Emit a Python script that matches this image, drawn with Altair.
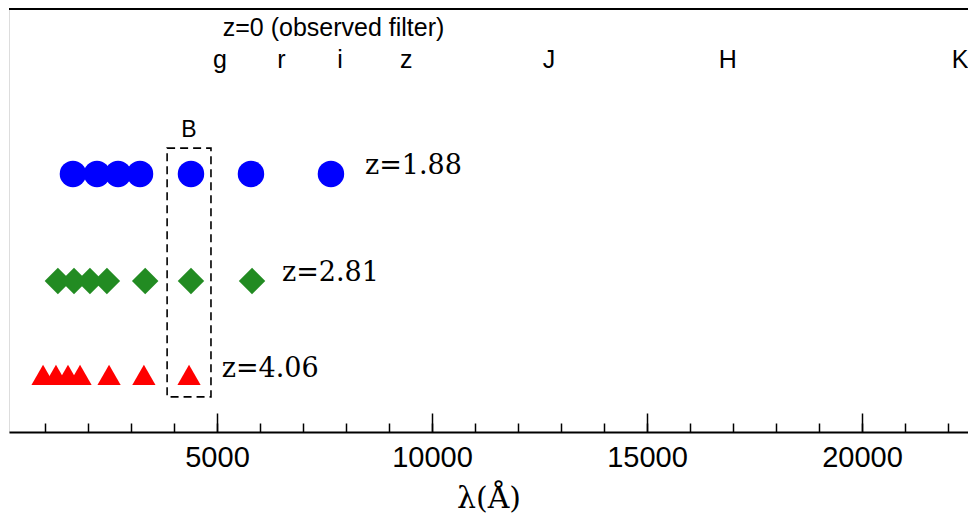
import altair as alt
import pandas as pd

# ---- data ----
# observed filters (z=0) and where their labels sit on the wavelength axis
filters = ["g", "r", "i", "z", "J", "H", "K"]
filter_lambda = [5070, 6500, 7860, 9400, 12720, 16880, 22280]

# rest-frame wavelength sampled by each filter at three redshifts (Angstrom)
lam_z188 = [1650, 2210, 2700, 3210, 4395, 5790, 7650]
lam_z281 = [1300, 1675, 2045, 2440, 3330, 4395, 5815]
lam_z406 = [955, 1255, 1535, 1815, 2490, 3300, 4350]

redshift_labels = ["z=1.88", "z=2.81", "z=4.06"]
row_y = [6.10, 3.57, 1.35]
label_lambda = [8440, 6510, 5110]
label_y = [6.29, 3.76, 1.49]

header_text = ["z=0 (observed filter)"]
header_lambda = [7710]
header_y = [9.56]
filter_row_y = [8.80]

band_name = ["B"]
band_lambda = [4350]
band_y = [7.14]
band_left = [3840]
band_right = [4860]
band_bottom = [0.83]
band_top = [6.71]

minor_ticks = list(range(1000, 23000, 1000))
major_ticks = [5000, 10000, 15000, 20000]

# ---- tables ----
df188 = pd.DataFrame({"lam": lam_z188, "y": row_y[0]})
df281 = pd.DataFrame({"lam": lam_z281, "y": row_y[1]})
df406 = pd.DataFrame({"lam": lam_z406, "y": row_y[2]})
dflab = pd.DataFrame({"lam": label_lambda, "y": label_y, "t": redshift_labels})
dffil = pd.DataFrame({"lam": filter_lambda, "y": filter_row_y * len(filters), "t": filters})
dfhead = pd.DataFrame({"lam": header_lambda, "y": header_y, "t": header_text})
dfband = pd.DataFrame({"lam": band_lambda, "y": band_y, "t": band_name,
                       "x1": band_left, "x2": band_right, "y1": band_bottom, "y2": band_top})

W, H = 959, 423
XDOM = [163, 22465]
xs = alt.Scale(domain=XDOM, nice=False, zero=False)
ys = alt.Scale(domain=[0, 10], nice=False, zero=False)
SANS = "Liberation Sans"
SERIF = "DejaVu Serif"

bottom_axis = alt.Axis(orient="bottom", values=major_ticks, format="d", ticks=False, tickSize=0,
                       grid=False, domainColor="black", domainWidth=2,
                       labelFont=SANS, labelFontSize=29, labelColor="black", labelPadding=11,
                       labelOverlap=False, labelFlush=False,
                       title="λ(Å)", titleFont=SERIF, titleFontSize=30, titleFontWeight="normal",
                       titleColor="black", titleBaseline="middle", titleY=66)
y_axis = alt.Axis(labels=False, ticks=False, title=None, grid=False,
                  domainColor="black", domainWidth=2)
minor_axis = alt.Axis(orient="top", offset=-H, values=minor_ticks, labels=False, domain=False,
                      grid=False, ticks=True, tickSize=9, tickColor="black", tickWidth=1.5, title=None)
major_axis = alt.Axis(orient="top", offset=-H, values=major_ticks, labels=False, domain=False,
                      grid=False, ticks=True, tickSize=19, tickColor="black", tickWidth=1.5, title=None)

circles = alt.Chart(df188).mark_point(shape="circle", filled=True, size=700, color="#0000ff", opacity=1).encode(
    x=alt.X("lam:Q", scale=xs, axis=bottom_axis),
    y=alt.Y("y:Q", scale=ys, axis=y_axis),
)
diamonds = alt.Chart(df281).mark_point(shape="diamond", filled=True, size=700, color="#228b22", opacity=1).encode(
    x=alt.X("lam:Q", scale=xs, axis=None),
    y=alt.Y("y:Q", scale=ys, axis=None),
)
triangles = alt.Chart(df406).mark_point(shape="triangle-up", filled=True, size=540, color="#ff0000", opacity=1).encode(
    x=alt.X("lam:Q", scale=xs, axis=None),
    y=alt.Y("y:Q", scale=ys, axis=None),
)
zlabels = alt.Chart(dflab).mark_text(align="left", baseline="middle", font=SERIF, fontSize=27, color="black").encode(
    x=alt.X("lam:Q", scale=xs, axis=None),
    y=alt.Y("y:Q", scale=ys, axis=None),
    text="t:N",
)
filt = alt.Chart(dffil).mark_text(align="center", baseline="middle", font=SANS, fontSize=25, color="black").encode(
    x=alt.X("lam:Q", scale=xs, axis=minor_axis),
    y=alt.Y("y:Q", scale=ys, axis=None),
    text="t:N",
)
head = alt.Chart(dfhead).mark_text(align="center", baseline="middle", font=SANS, fontSize=25, color="black").encode(
    x=alt.X("lam:Q", scale=xs, axis=major_axis),
    y=alt.Y("y:Q", scale=ys, axis=None),
    text="t:N",
)
band_txt = alt.Chart(dfband).mark_text(align="center", baseline="middle", font=SANS, fontSize=23, color="black").encode(
    x=alt.X("lam:Q", scale=xs, axis=None),
    y=alt.Y("y:Q", scale=ys, axis=None),
    text="t:N",
)
box = alt.Chart(dfband).mark_rect(fillOpacity=0, stroke="black", strokeWidth=1.6, strokeDash=[8, 5]).encode(
    x=alt.X("x1:Q", scale=xs, axis=None),
    x2="x2:Q",
    y=alt.Y("y1:Q", scale=ys, axis=None),
    y2="y2:Q",
)
top_border = alt.Chart(pd.DataFrame({"a": [0]})).mark_rule(color="black", strokeWidth=2).encode(
    x=alt.value(0), x2=alt.value(W), y=alt.value(0)
)

chart = alt.layer(
    circles, diamonds, triangles, zlabels, filt, head, band_txt, box, top_border
).resolve_axis(x="independent").properties(
    width=W, height=H,
    autosize=alt.AutoSizeParams(type="none"),
    padding={"left": 1, "top": 1, "right": 0, "bottom": 81},
).configure_view(stroke=None).configure(background="white")

chart.save("out.html", embed_options={"renderer": "svg", "actions": False})
